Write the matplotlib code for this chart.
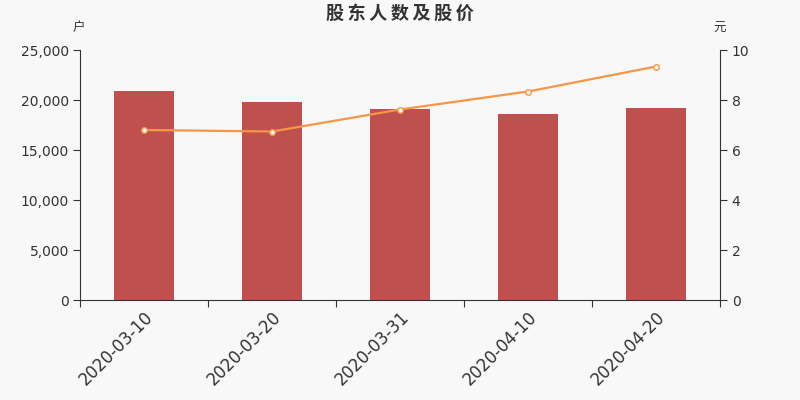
import matplotlib
matplotlib.use("Agg")
import matplotlib.pyplot as plt
import numpy as np

plt.rcParams["font.family"] = ["DejaVu Sans", "Noto Sans CJK SC"]

dates = ["2020-03-10", "2020-03-20", "2020-03-31", "2020-04-10", "2020-04-20"]
holders = [20900, 19800, 19100, 18600, 19200]
price = [6.80, 6.74, 7.62, 8.34, 9.34]

BG = "#f8f8f8"; INK = "#333333"; BAR = "#c0504d"; LINE = "#f79646"

fig = plt.figure(figsize=(8, 4), dpi=100)
fig.patch.set_facecolor(BG)
ax = fig.add_axes([0.1, 0.25, 0.8, 0.625])
ax.set_facecolor(BG)
x = np.arange(len(dates))
ax.bar(x, holders, width=0.47, color=BAR, zorder=2)
ax.set_xlim(-0.5, len(dates) - 0.5)
ax.set_ylim(0, 25000)
ax.set_yticks(np.arange(0, 25001, 5000))
ax.set_yticklabels(["{:,}".format(v) for v in range(0, 25001, 5000)], fontsize=10, color=INK)
ax.set_xticks(np.arange(-0.5, len(dates), 1.0), minor=False)
ax.set_xticklabels([])
ax.set_xticks(x, minor=True)
ax.set_xticklabels(dates, minor=True, rotation=45, ha="right", rotation_mode="anchor",
                   fontsize=12, color=INK)
ax.tick_params(axis="x", which="minor", length=0, pad=6)
ax.tick_params(axis="x", which="major", length=5, color=INK)
ax.tick_params(axis="y", length=5, color=INK, pad=3)
for s in ("top", "right"):
    ax.spines[s].set_visible(False)
for s in ("left", "bottom"):
    ax.spines[s].set_color(INK)

ax2 = ax.twinx()
ax2.plot(x, price, color=LINE, lw=1.6, marker="o", ms=4, mfc="white", mec=LINE, mew=1, zorder=3)
ax2.set_ylim(0, 10)
ax2.set_yticks(np.arange(0, 11, 2))
ax2.tick_params(axis="y", length=5, color=INK, labelsize=10, labelcolor=INK)
for s in ("top", "left", "bottom"):
    ax2.spines[s].set_visible(False)
ax2.spines["right"].set_color(INK)

fig.text(0.5, 0.967, "股\u2009东\u2009人\u2009数\u2009及\u2009股\u2009价", ha="center", va="center",
         fontsize=13, fontweight="bold", color=INK, family=["Noto Sans CJK SC", "DejaVu Sans"])
fig.text(0.098, 0.93, "户", ha="center", va="center", fontsize=9, color=INK,
         family=["Noto Sans CJK SC"])
fig.text(0.9, 0.93, "元", ha="center", va="center", fontsize=9, color=INK,
         family=["Noto Sans CJK SC"])

fig.savefig("out.png", facecolor=BG)
